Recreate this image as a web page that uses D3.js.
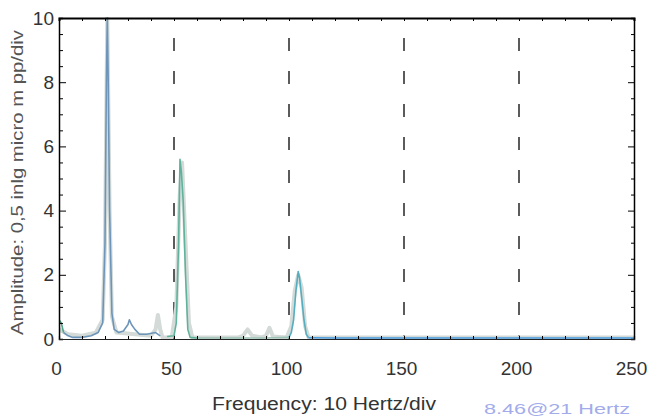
<!DOCTYPE html>
<html>
<head>
<meta charset="utf-8">
<script src="https://cdn.jsdelivr.net/npm/d3@7"></script>
<style>
  body { margin: 0; background: #fff; }
  text { font-family: "Liberation Sans", Arial, sans-serif; }
</style>
</head>
<body>
<svg id="chart" width="651" height="417"></svg>
<script>
// spectrum (Hz, amplitude)
var freq = [0, 1, 2, 4, 6, 10, 14, 17, 19, 20, 20.6, 21, 21.4, 22, 23, 24, 26, 28, 30, 30.6, 31.5, 33, 35, 38, 42,
  44, 47, 50, 51, 52, 52.6, 53.2, 54, 55, 56, 57, 60, 70, 80, 90, 100, 101, 102, 103, 104, 104.6, 105.5, 106.5, 107.5, 108.5, 120, 150, 200, 250];
var amp = [0.6, 0.5, 0.2, 0.1, 0.05, 0.05, 0.1, 0.2, 0.5, 3, 8, 10, 8, 4, 0.8, 0.3, 0.2, 0.25, 0.45, 0.6, 0.45, 0.3, 0.15, 0.15, 0.2,
  0.1, 0.08, 0.1, 0.5, 3, 5.6, 5.2, 4.3, 2, 0.3, 0.05, 0.03, 0.03, 0.03, 0.03, 0.05, 0.2, 0.6, 1.5, 2.1, 1.9, 1.3, 0.6, 0.15, 0.04, 0.03, 0.03, 0.03, 0.03];

// pale ghost trace behind the main one
var ghostFreq = [0, 4, 10, 16, 19, 20, 21, 22, 23, 25, 40, 42, 43, 44, 45, 49, 51, 52.5, 53.5, 55, 56.5, 58, 78, 80, 82, 84, 88, 90, 91.5, 93, 99, 101, 102.5, 104, 105.5, 107, 108.5, 120, 250];
var ghostAmp = [0.3, 0.15, 0.1, 0.2, 0.6, 3, 10, 4, 0.7, 0.2, 0.1, 0.3, 0.75, 0.3, 0.05, 0.05, 1, 4.5, 5.5, 3, 0.5, 0.05, 0.05, 0.1, 0.3, 0.1, 0.05, 0.1, 0.35, 0.08, 0.05, 0.4, 1.5, 2, 1.6, 0.4, 0.05, 0.05, 0.05];

// colour bands of the main trace [from Hz, to Hz, colour]
var bands = [[0, 2, "#4fa58a"], [2, 46, "#6d95ba"], [46, 60, "#5fb39c"], [60, 100, "#9cc2b6"], [100, 108.5, "#55aec0"], [108.5, 250, "#4a9be0"]];

var yTicks = [0, 2, 4, 6, 8, 10];
var xTicks = [0, 50, 100, 150, 200, 250];
var gridFreq = [50, 100, 150, 200];

var svg = d3.select("#chart");
var x = d3.scaleLinear().domain([0, 250]).range([59, 634]);
var y = d3.scaleLinear().domain([0, 10]).range([339, 18]);

svg.append("defs").append("clipPath").attr("id", "plot")
  .append("rect").attr("x", 59).attr("y", 17).attr("width", 576).attr("height", 324);

// dashed divisions
svg.selectAll("line.grid").data(gridFreq).enter().append("line")
  .attr("class", "grid")
  .attr("x1", function(d) { return x(d); }).attr("x2", function(d) { return x(d); })
  .attr("y1", y(10) + 20).attr("y2", y(0))
  .attr("stroke", "#333").attr("stroke-width", 1.6)
  .attr("stroke-dasharray", "13,20");

var line = d3.line()
  .x(function(d) { return x(d[0]); })
  .y(function(d) { return y(d[1]); });

var g = svg.append("g").attr("clip-path", "url(#plot)");

g.append("path")
  .datum(d3.zip(ghostFreq, ghostAmp))
  .attr("d", line)
  .attr("fill", "none").attr("stroke", "#d3dad7").attr("stroke-width", 4)
  .attr("stroke-linejoin", "round");

var pts = d3.zip(freq, amp);
bands.forEach(function(b) {
  var seg = pts.filter(function(p) { return p[0] >= b[0] && p[0] <= b[1]; });
  g.append("path")
    .datum(seg)
    .attr("d", line)
    .attr("fill", "none").attr("stroke", b[2]).attr("stroke-width", 1.6)
    .attr("stroke-linejoin", "round");
});

// axes frame
var leftAx = svg.append("g").attr("transform", "translate(59,0)")
  .call(d3.axisRight(y).tickValues(d3.range(0, 10.01, 0.5)).tickSize(4).tickFormat(""));
leftAx.selectAll(".tick line").filter(function(d) { return d % 2 === 0; }).attr("x2", 7);
leftAx.select(".domain").attr("stroke-width", 1.5);

var yLab = svg.append("g").attr("transform", "translate(59,0)")
  .call(d3.axisLeft(y).tickValues(yTicks).tickSize(0).tickPadding(5));
yLab.select(".domain").remove();
yLab.selectAll("text").attr("font-size", 19).attr("fill", "#333")
  .style("font-family", "Liberation Sans, Arial, sans-serif");

var rightAx = svg.append("g").attr("transform", "translate(634,0)")
  .call(d3.axisLeft(y).tickValues(d3.range(0, 10.01, 0.5)).tickSize(3).tickFormat(""));
rightAx.selectAll(".tick line").filter(function(d) { return d % 2 === 0; }).attr("x2", -6);
rightAx.select(".domain").attr("stroke-width", 1.5);

var topAx = svg.append("g").attr("transform", "translate(0,18)")
  .call(d3.axisBottom(x).tickValues(d3.range(0, 251, 10)).tickSize(3).tickFormat(""));
topAx.select(".domain").attr("stroke-width", 2);

var bottomAx = svg.append("g").attr("transform", "translate(0,339)")
  .call(d3.axisTop(x).tickValues(d3.range(0, 251, 10)).tickSize(3).tickFormat(""));
bottomAx.select(".domain").attr("stroke-width", 1.2).attr("stroke", "#222");

var xLab = svg.append("g").attr("transform", "translate(-3,339)")
  .call(d3.axisBottom(x).tickValues(xTicks).tickSize(0).tickPadding(23));
xLab.select(".domain").remove();
xLab.selectAll("text").attr("font-size", 19).attr("fill", "#333")
  .style("font-family", "Liberation Sans, Arial, sans-serif");

svg.append("text")
  .attr("x", 212).attr("y", 410)
  .attr("font-size", 18).attr("fill", "#333")
  .attr("textLength", 224).attr("lengthAdjust", "spacingAndGlyphs")
  .text("Frequency: 10 Hertz/div");

svg.append("text")
  .attr("transform", "translate(23,335) rotate(-90)")
  .attr("font-size", 16).attr("fill", "#555")
  .attr("textLength", 305).attr("lengthAdjust", "spacingAndGlyphs")
  .text("Amplitude: 0,5 inlg micro m pp/div");

svg.append("text")
  .attr("x", 484).attr("y", 414)
  .attr("font-size", 15).attr("fill", "#a3acea")
  .attr("textLength", 146).attr("lengthAdjust", "spacingAndGlyphs")
  .text("8.46@21 Hertz");
</script>
</body>
</html>
